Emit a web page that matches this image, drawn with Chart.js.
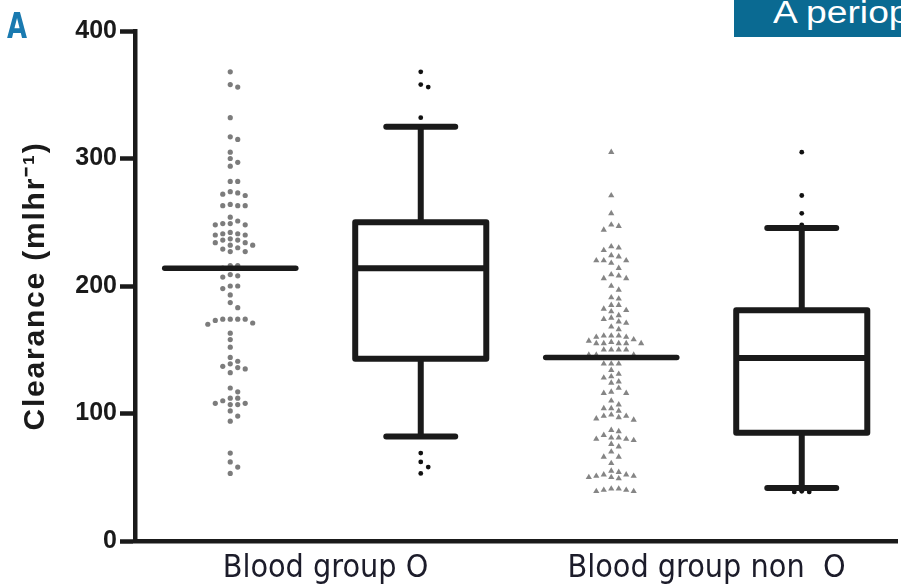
<!DOCTYPE html>
<html>
<head>
<meta charset="utf-8">
<script src="https://cdn.jsdelivr.net/npm/chart.js@4.4.1/dist/chart.umd.min.js"></script>
<style>
  html, body { margin: 0; padding: 0; background: #fff; }
  #wrap { position: relative; width: 901px; height: 587px; overflow: hidden; }
  #panel { position: absolute; left: 7px; top: 5px; line-height: 1; transform: scaleX(0.8); transform-origin: left top;
           font: bold 36px 'DejaVu Sans Condensed', 'Liberation Sans', sans-serif; color: #1a7ab0; }
  #banner { position: absolute; left: 734px; top: 0; width: 167px; height: 37px; background: #0a6a92; overflow: hidden; white-space: nowrap; }
  #banner span { position: absolute; left: 39px; top: -5px; line-height: 1; font: 31px 'Liberation Sans', Arial, sans-serif; color: #fff;
                 transform: scaleX(1.2); transform-origin: left top; }
  canvas { position: absolute; left: 0; top: 0; }
</style>
</head>
<body>
<div id="wrap">
  <canvas id="chart" width="901" height="587"></canvas>
  <div id="panel">A</div>
  <div id="banner"><span>A periop</span></div>
</div>
<script>
// --- datos ---
const groups = ['Blood group O', 'Blood group non  O'];
const yTicks = [0, 100, 200, 300, 400];

const clearanceO = [
  368, 358, 356, 332, 317, 315, 305, 300, 297, 294,
  282, 282, 274, 273, 272, 271, 264, 263, 263, 263,
  254, 251, 249, 249, 248, 248, 242, 241, 241, 240, 240,
  237, 236, 236, 234, 234, 232, 232, 230, 229, 227, 227,
  216, 216, 214, 209, 208, 207, 200, 200, 198, 193, 187, 183,
  174, 174, 174, 174, 173, 171, 170, 163, 158, 152, 144, 141,
  139, 137, 136, 135, 132, 120, 117, 112, 112, 110, 108, 108, 107, 107,
  102, 98, 94, 69, 62, 58, 53
];
const clearanceNonO = [
  305, 271, 257, 248, 247, 244, 231, 230, 228,
  224, 223, 220, 220, 220, 218, 214, 209, 208, 206, 206,
  200, 197, 191, 190, 185, 185, 182, 181, 180, 177, 175, 174, 172, 171, 168, 166,
  161, 161, 161, 160, 160, 158, 157, 156, 155, 155, 155, 155, 155,
  150, 150, 150, 150, 146, 146, 146, 139, 139, 139, 134, 131, 129, 128, 125, 124,
  120, 117, 116, 116, 110, 107, 104, 104, 102, 99, 98, 98, 97, 96, 95,
  87, 86, 83, 81, 81, 80, 80, 79, 76, 74, 70, 66, 66, 61, 55, 54,
  52, 52, 51, 51, 50, 50, 49, 41, 41, 40, 40, 39, 39
];
const scatterMedian = [214, 144];

// diagrama de cajas
const boxMedian = [214, 143.5];
const boxQ1 = [143, 85];
const boxQ3 = [250, 181];
const whiskerLow = [82, 41.6];
const whiskerHigh = [325, 245.5];
const outliersO = [368, 358, 356, 332, 69, 62, 58, 53];
const outliersNonO = [305, 271, 257, 248, 39, 38.5, 38.5];

// --- geometría del dibujo ---
const PX_PER_X = 191, PX_PER_Y = 1.275;
const COL_PX = 7.5, MIN_PX = 5.5;
const BOX_HALF = 0.344, CAP_HALF = 0.181;

// beeswarm sencillo: columnas de 7.5 px alrededor del centro
function swarm(values, center) {
  const placed = [];
  return [...values].sort((a, b) => b - a).map(v => {
    let col = 0;
    for (let i = 0; i < 40; i++) {
      const c = i === 0 ? 0 : (i % 2 ? (i + 1) / 2 : -i / 2);
      const hit = placed.some(p => p.c === c && Math.abs(p.v - v) * PX_PER_Y < MIN_PX);
      if (!hit) { col = c; break; }
    }
    placed.push({ c: col, v });
    return { x: center + col * COL_PX / PX_PER_X, y: v };
  });
}

function boxPath(g) {
  const x = 2 + 2 * g, gap = { x: x, y: null };
  return [
    { x: x - BOX_HALF, y: boxQ1[g] }, { x: x + BOX_HALF, y: boxQ1[g] },
    { x: x + BOX_HALF, y: boxQ3[g] }, { x: x - BOX_HALF, y: boxQ3[g] },
    { x: x - BOX_HALF, y: boxQ1[g] }, gap,
    { x: x - BOX_HALF, y: boxMedian[g] }, { x: x + BOX_HALF, y: boxMedian[g] }, gap,
    { x: x, y: boxQ3[g] }, { x: x, y: whiskerHigh[g] }, gap,
    { x: x - CAP_HALF, y: whiskerHigh[g] }, { x: x + CAP_HALF, y: whiskerHigh[g] }, gap,
    { x: x, y: boxQ1[g] }, { x: x, y: whiskerLow[g] }, gap,
    { x: x - CAP_HALF, y: whiskerLow[g] }, { x: x + CAP_HALF, y: whiskerLow[g] }
  ];
}

function medianLine(g) {
  const x = 1 + 2 * g;
  return [{ x: x - BOX_HALF, y: scatterMedian[g] }, { x: x + BOX_HALF, y: scatterMedian[g] }];
}

// título del eje Y con letras algo espaciadas, como en la figura
const spacedTitle = {
  id: 'spacedTitle',
  afterLayout(chart) {
    const s = chart.scales.y;
    if (!s || s._spaced) return;
    const orig = s.drawTitle;
    s.drawTitle = function () {
      const c = this.ctx;
      c.save();
      c.letterSpacing = '1.8px';
      orig.call(this);
      c.restore();
    };
    s._spaced = true;
  }
};

const ink = '#1a1a1a';
const lineStyle = {
  type: 'line', showLine: true, spanGaps: false, pointRadius: 0, borderColor: ink,
  borderWidth: 6, borderCapStyle: 'round', borderJoinStyle: 'round', order: 0
};
const font = "'Liberation Sans', Arial, sans-serif";
const narrow = "'DejaVu Sans Condensed', 'Liberation Sans', sans-serif";

new Chart(document.getElementById('chart'), {
  type: 'scatter',
  data: {
    datasets: [
      { ...lineStyle, data: medianLine(0), borderWidth: 5.5 },
      { ...lineStyle, data: medianLine(1), borderWidth: 5.5 },
      { ...lineStyle, data: boxPath(0) },
      { ...lineStyle, data: boxPath(1) },
      { data: swarm(clearanceO, 1), pointStyle: 'circle', pointRadius: 2.6, backgroundColor: '#7c7c7c', borderWidth: 0, order: 1 },
      { data: swarm(clearanceNonO, 3), pointStyle: 'triangle', pointRadius: 3.6, backgroundColor: '#858585', borderWidth: 0, order: 1 },
      { data: swarm(outliersO, 2), pointRadius: 2.4, backgroundColor: '#111', borderWidth: 0, order: 1 },
      { data: swarm(outliersNonO, 4), pointRadius: 2.4, backgroundColor: '#111', borderWidth: 0, order: 1 }
    ]
  },
  plugins: [spacedTitle],
  options: {
    responsive: false,
    animation: false,
    events: [],
    layout: { padding: { left: 0, right: 2, top: 31, bottom: 0 } },
    plugins: { legend: { display: false }, tooltip: { enabled: false } },
    scales: {
      x: {
        type: 'linear', min: 0.5, max: 4.5,
        afterBuildTicks: s => { s.ticks = [1.5, 3.5].map(v => ({ value: v })); },
        afterFit: s => { s.height = 46; },
        grid: { display: false, drawTicks: false },
        border: { display: true, width: 4.5, color: ink },
        ticks: {
          autoSkip: false, maxRotation: 0, padding: 8, color: '#1c1c2a',
          font: { family: narrow, size: 32 },
          callback: (v, i) => groups[i]
        }
      },
      y: {
        min: 0, max: 400,
        afterBuildTicks: s => { s.ticks = yTicks.map(v => ({ value: v })); },
        afterFit: s => { s.width = 135; },
        grid: { drawOnChartArea: false, drawTicks: true, tickLength: 15, tickWidth: 4.5, tickColor: ink },
        border: { display: true, width: 4.5, color: ink },
        ticks: { color: ink, padding: 3, font: { family: font, size: 25, weight: 'bold' } },
        title: {
          display: true, text: 'Clearance (mlhr⁻¹)', color: ink,
          font: { family: font, size: 30, weight: 'bold' },
          padding: { top: 18, bottom: 0 }
        }
      }
    }
  }
});
</script>
</body>
</html>
